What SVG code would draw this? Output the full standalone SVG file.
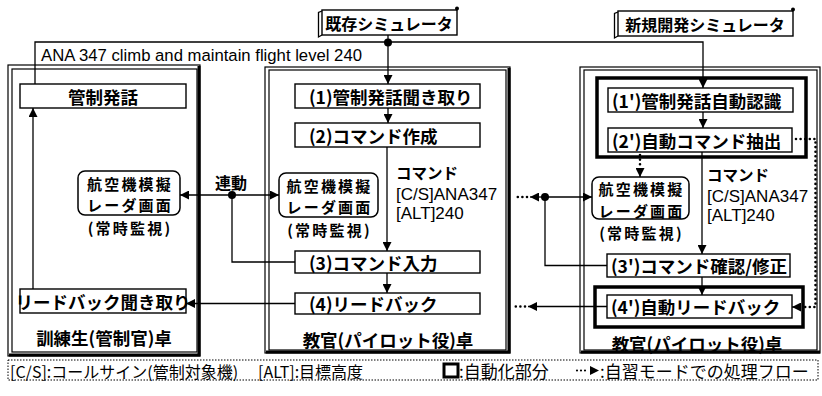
<svg xmlns="http://www.w3.org/2000/svg" width="822" height="396" viewBox="0 0 822 396">
<defs>
<marker id="ah" viewBox="0 0 10 10" refX="10" refY="5" markerWidth="9" markerHeight="9" markerUnits="userSpaceOnUse" orient="auto">
<path d="M0,0 L10,5 L0,10 z" fill="#000"/>
</marker>
</defs>
<style>
text{font-family:"Noto Sans CJK JP","Noto Sans",sans-serif;fill:#000}
.b{font-weight:bold;font-size:17.5px}
.r{font-weight:bold;font-size:15px;letter-spacing:2.2px}
.lbl{font-weight:bold;font-size:16px}
.en{font-family:"Liberation Sans",Arial,sans-serif;font-size:16.7px}
.cmd{font-family:"Liberation Sans",Arial,sans-serif;font-size:17px}
.leg{font-size:16px}
.leg2{font-size:17px}
.box{fill:#fff;stroke:#000;stroke-width:1.4}
.rad{fill:#fff;stroke:#000;stroke-width:1.5}
.auto{fill:none;stroke:#000;stroke-width:3.5}
.fr{fill:none;stroke:#000;stroke-width:1.2}
.thk{fill:none;stroke:#000;stroke-width:3}
.ln{fill:none;stroke:#000;stroke-width:1.3}
.dot{fill:none;stroke:#000;stroke-width:2.6;stroke-dasharray:0 4.6;stroke-linecap:round}
.c{text-anchor:middle;dominant-baseline:central}
.l{dominant-baseline:central}
</style>
<rect width="822" height="396" fill="#fff"/>

<!-- panels -->
<g id="panel-trainee">
<rect class="fr" x="8" y="65" width="192" height="291"/>
<rect class="fr" x="12" y="69" width="185" height="283"/>
<path class="thk" d="M199,66 V355 H9"/>
<text class="b c" x="104" y="337">訓練生(管制官)卓</text>
</g>
<g id="panel-instructor">
<rect class="fr" x="265" y="67" width="245" height="286"/>
<rect class="fr" x="269" y="70" width="237" height="280"/>
<path class="thk" d="M509,68 V352 H266"/>
<text class="b c" x="388" y="339">教官(パイロット役)卓</text>
</g>
<g id="panel-new">
<rect class="fr" x="580" y="67" width="240" height="286"/>
<rect class="fr" x="584" y="70" width="233" height="280"/>
<path class="thk" d="M581,352 H820"/>
<text class="b c" x="697" y="343">教官(パイロット役)卓</text>
</g>

<!-- simulator labels -->
<g id="label-existing">
<rect class="box" x="322" y="10" width="135" height="25"/>
<path class="ln" d="M322,11 L318.5,12.5 V37 L322,35"/>
<circle cx="457" cy="8.5" r="2"/>
<text class="lbl c" x="389" y="23">既存シミュレータ</text>
</g>
<g id="label-new">
<rect class="box" x="618" y="11" width="175" height="25"/>
<path class="ln" d="M618,12 L614.5,13.5 V38 L618,36"/>
<circle cx="793" cy="9.5" r="2"/>
<text class="lbl c" x="705" y="24">新規開発シミュレータ</text>
</g>

<!-- trainee nodes -->
<g id="n-utter">
<rect class="box" x="20" y="84" width="166" height="24"/>
<text class="b c" x="103" y="96">管制発話</text>
</g>
<g id="n-radar-l">
<rect class="rad" x="78" y="171" width="102" height="44" rx="7"/>
<text class="r c"><tspan x="130" y="182.5">航空機模擬</tspan><tspan x="130" y="204">レーダ画面</tspan><tspan x="130" y="227">(常時監視)</tspan></text>
</g>
<g id="n-readback-listen">
<rect class="box" x="20" y="289" width="166" height="24"/>
<text class="b c" x="103" y="301">リードバック聞き取り</text>
</g>

<!-- instructor nodes -->
<g id="n-1">
<rect class="box" x="295" y="84" width="185" height="24"/>
<text class="b l" x="309" y="96">(1)管制発話聞き取り</text>
</g>
<g id="n-2">
<rect class="box" x="295" y="123" width="185" height="24"/>
<text class="b l" x="309" y="135">(2)コマンド作成</text>
</g>
<g id="n-radar-m">
<rect class="rad" x="279" y="173" width="99" height="44" rx="7"/>
<text class="r c"><tspan x="329.5" y="184.5">航空機模擬</tspan><tspan x="329.5" y="206">レーダ画面</tspan><tspan x="329.5" y="229">(常時監視)</tspan></text>
</g>
<g id="t-cmd-m">
<text class="cmd l"><tspan x="396" y="172" style="font-family:'Noto Sans CJK JP',sans-serif;font-weight:bold;font-size:15.5px">コマンド</tspan><tspan x="396" y="194">[C/S]ANA347</tspan><tspan x="396" y="213">[ALT]240</tspan></text>
</g>
<g id="n-3">
<rect class="box" x="295" y="251" width="185" height="22"/>
<text class="b l" x="309" y="262">(3)コマンド入力</text>
</g>
<g id="n-4">
<rect class="box" x="295" y="293" width="185" height="21"/>
<text class="b l" x="309" y="303.5">(4)リードバック</text>
</g>

<!-- new simulator nodes -->
<g id="auto-1">
<rect class="auto" x="597" y="78" width="209" height="79"/>
</g>
<g id="n-1p">
<rect class="box" x="608" y="88" width="185" height="24"/>
<text class="b l" x="612" y="100">(1')管制発話自動認識</text>
</g>
<g id="n-2p">
<rect class="box" x="608" y="128" width="184" height="24"/>
<text class="b l" x="612" y="140">(2')自動コマンド抽出</text>
</g>
<g id="n-radar-r">
<rect class="rad" x="592" y="177" width="97" height="42" rx="7"/>
<text class="r c"><tspan x="641.5" y="188">航空機模擬</tspan><tspan x="641.5" y="209.5">レーダ画面</tspan><tspan x="641.5" y="232">(常時監視)</tspan></text>
</g>
<g id="t-cmd-r">
<text class="cmd l"><tspan x="707" y="174" style="font-family:'Noto Sans CJK JP',sans-serif;font-weight:bold;font-size:15.5px">コマンド</tspan><tspan x="707" y="196">[C/S]ANA347</tspan><tspan x="707" y="215">[ALT]240</tspan></text>
</g>
<g id="n-3p">
<rect class="box" x="607" y="254" width="183" height="23"/>
<text class="b l" x="611" y="265.5">(3')コマンド確認/修正</text>
</g>
<g id="auto-2">
<rect class="auto" x="595" y="287" width="208" height="40"/>
</g>
<g id="n-4p">
<rect class="box" x="607" y="295" width="185" height="23"/>
<text class="b l" x="611" y="306.5">(4')自動リードバック</text>
</g>

<!-- connectors -->
<g id="connectors">
<path class="ln" d="M35,84 V42 H703 V88" marker-end="url(#ah)"/>
<path class="ln" d="M388,35 V84" marker-end="url(#ah)"/>
<circle cx="388" cy="42.5" r="4"/>
<path class="ln" d="M388,108 V123" marker-end="url(#ah)"/>
<path class="ln" d="M387,147 V251" marker-end="url(#ah)"/>
<path class="ln" d="M387,273 V293" marker-end="url(#ah)"/>
<path class="ln" d="M33,289 V108" marker-end="url(#ah)"/>
<path class="ln" d="M295,303.5 H186" marker-end="url(#ah)"/>
<path class="ln" d="M232,195 H180" marker-end="url(#ah)"/>
<path class="ln" d="M232,195 H279" marker-end="url(#ah)"/>
<path class="ln" d="M232,195 V262 H295"/>
<circle cx="232" cy="195" r="4"/>
<text class="b c" x="231" y="182" style="font-size:16px">連動</text>
<path class="ln" d="M703,112 V128" marker-end="url(#ah)"/>
<path class="ln" d="M702,152 V254" marker-end="url(#ah)"/>
<path class="ln" d="M702,277 V295" marker-end="url(#ah)"/>
<path class="dot" d="M640,155 V166"/>
<path class="ln" d="M640,168 V177" marker-end="url(#ah)"/>
<path class="ln" d="M545,197 H592" marker-end="url(#ah)"/>
<path class="ln" d="M545,197 H530" marker-end="url(#ah)"/>
<path class="dot" d="M527,197 H516"/>
<circle cx="545" cy="197" r="4"/>
<path class="ln" d="M545,197 V265.5 H607"/>
<path class="ln" d="M607,306.5 H528" marker-end="url(#ah)"/>
<path class="dot" d="M525,306.5 H515"/>
<path class="dot" d="M796,139 H815.5 V307 H804"/>
<path class="ln" d="M801,307 H792" marker-end="url(#ah)"/>
</g>

<!-- text outside nodes -->
<text class="en l" x="41" y="55">ANA 347 climb and maintain flight level 240</text>

<!-- legend -->
<g id="legend">
<rect x="8" y="360" width="810" height="20" fill="none" stroke="#000" stroke-width="1" stroke-dasharray="1.5 1.5"/>
<text class="leg l" x="10" y="370.5">[C/S]:コールサイン(管制対象機)</text>
<text class="leg l" x="258" y="370.5">[ALT]:目標高度</text>
<rect x="444" y="364" width="14" height="13" fill="none" stroke="#000" stroke-width="3"/>
<text class="leg2 l" x="459" y="370.5">:自動化部分</text>
<path class="dot" d="M577,370.5 H588" style="stroke-width:2.2;stroke-dasharray:0 4"/>
<path d="M590,366 L599,370.5 L590,375 z"/>
<text class="leg2 l" x="600" y="370.5">:自習モードでの処理フロー</text>
</g>
</svg>
